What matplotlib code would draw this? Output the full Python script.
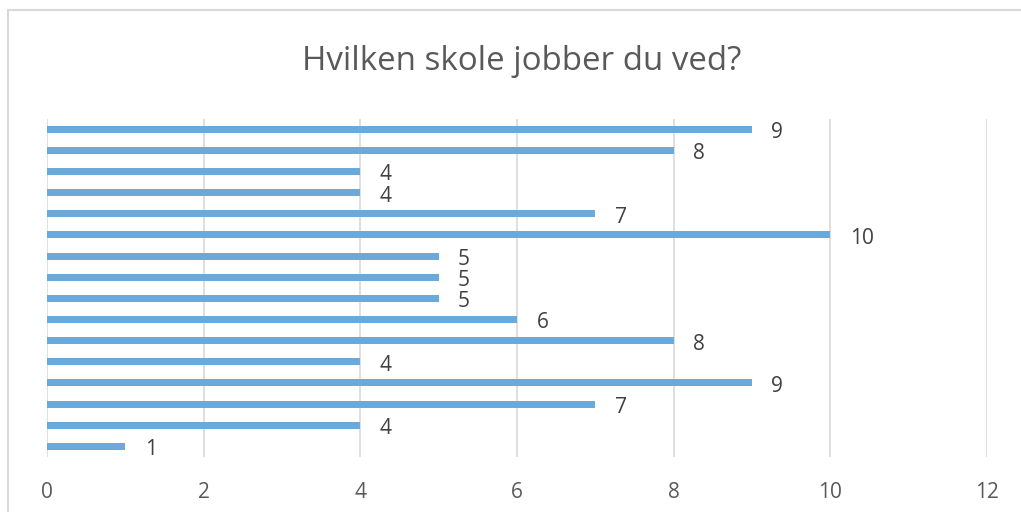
import matplotlib
matplotlib.use("Agg")
import matplotlib.pyplot as plt
from matplotlib.patches import Rectangle

title = "Hvilken skole jobber du ved?"
values = [9, 8, 4, 4, 7, 10, 5, 5, 5, 6, 8, 4, 9, 7, 4, 1]   # top to bottom
xticks = [0, 2, 4, 6, 8, 10, 12]

plt.rcParams['font.family'] = ['Open Sans', 'DejaVu Sans']

W, H = 1021, 512
fig = plt.figure(figsize=(W / 100, H / 100), dpi=100)
fig.patch.set_facecolor("white")

# outer chart frame (right/bottom edges lie outside the image)
fig.add_artist(Rectangle((7.5 / W, -0.1), 1.2, 1 - 9.5 / H + 0.1,
                         transform=fig.transFigure, fill=False,
                         edgecolor="#d9d9d9", linewidth=1.5))

ax = fig.add_axes([47 / W, 1 - 457 / H, (987 - 47) / W, (457 - 118.5) / H])
n = len(values)
ypos = list(range(n))[::-1]
ax.barh(ypos, values, height=0.33, color="#6AAADB", zorder=3)
ax.set_ylim(-0.5, n - 0.5)
ax.set_xlim(0, 12)
ax.set_xticks(xticks)
ax.set_xticklabels([str(t) for t in xticks])
ax.set_yticks([])
ax.grid(axis="x", color="#d9d9d9", linewidth=1.2, zorder=0)
for s in ax.spines.values():
    s.set_visible(False)
ax.tick_params(axis="x", length=0, pad=18, labelsize=15, labelcolor="#595959")

for y, v in zip(ypos, values):
    ax.annotate(str(v), (v, y), xytext=(14, -2.5), textcoords="offset points",
                ha="left", va="center", fontsize=15, color="#404040")

fig.text(521.5 / W, 1 - 61.5 / H, title, ha="center", va="center",
         fontsize=23.8, color="#595959")

fig.savefig("out.png", dpi=100)
